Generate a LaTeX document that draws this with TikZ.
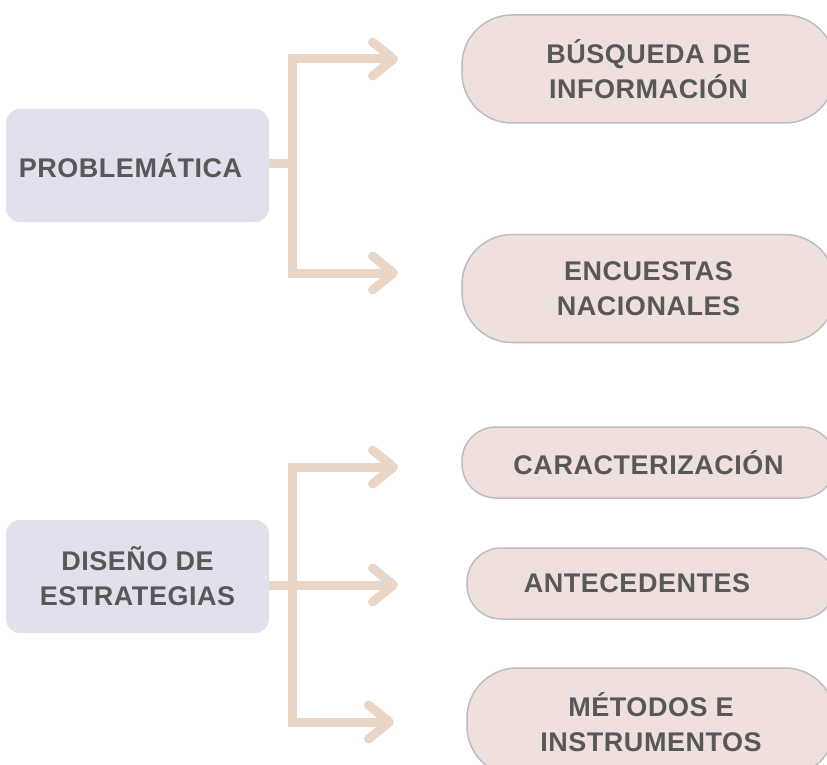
\documentclass[tikz,border=0pt]{standalone}
\usepackage{fontspec}
\setmainfont[LetterSpace=2]{Liberation Sans}
\usetikzlibrary{arrows.meta,positioning}
\definecolor{lila}{HTML}{E2E0ED}
\definecolor{rosa}{HTML}{EFE0DD}
\definecolor{borde}{HTML}{BEBCBC}
\definecolor{flecha}{HTML}{E9D6C6}
\definecolor{texto}{HTML}{585858}
\tikzset{
  letra/.style={text=texto, align=center, font=\fontsize{27}{35}\selectfont\bfseries},
  tema/.style={letra, fill=lila, rounded corners=14pt, inner sep=0pt,
    minimum width=263pt, minimum height=113pt},
  sub/.style={letra, fill=rosa, draw=borde, line width=1.5pt, inner sep=0pt,
    rounded corners=50pt, minimum height=#1},
  sub/.default=108pt,
  flujo/.style={draw=flecha, line width=9pt, line join=miter},
  punta/.style={-{Straight Barb[length=21pt,width=34pt,round]}},
  dospuntas/.style={{Straight Barb[length=21pt,width=34pt,round]}-{Straight Barb[length=21pt,width=34pt,round]}}
}
\begin{document}
\begin{tikzpicture}[x=1pt,y=-1pt]
\useasboundingbox (0,0) rectangle (827,765);
\clip (0,0) rectangle (827,765);

\node[tema] (prob) at (137.5,165.5) {PROBLEMÁTICA\hspace*{14pt}};
\node[tema] (dis) at (137.5,576.5) {DISEÑO DE\\ESTRATEGIAS};

\node[sub, minimum width=373pt] (busq) at (648.5,69) {BÚSQUEDA DE\\INFORMACIÓN};
\node[sub, minimum width=373pt] (encu) at (648.5,288.5) {ENCUESTAS\\NACIONALES};
\node[sub=71pt, minimum width=373pt, rounded corners=34pt] (cara) at (648.5,462.5) {CARACTERIZACIÓN};
\node[sub=71pt, minimum width=368pt, rounded corners=34pt] (ante) at (651,583.5) {ANTECEDENTES\hspace*{28pt}};
\node[sub, minimum width=368pt] (meto) at (651,722) {MÉTODOS E\\INSTRUMENTOS};

\coordinate (r0) at (292,163);
\coordinate (r1) at (292,59);
\coordinate (r2) at (292,273);
\coordinate (f1) at (398,59);
\coordinate (f2) at (398,273);
\coordinate (r3) at (292,467);
\coordinate (r4) at (292,722);
\coordinate (f3) at (398,467);
\coordinate (f4) at (398,585);
\coordinate (f5) at (394,722);

\draw[flujo,dospuntas] (f1) -- (r1) -- (r2) -- (f2);
\draw[flujo] (prob.east |- r0) -- (r0);
\draw[flujo,dospuntas] (f3) -- (r3) -- (r4) -- (f5);
\draw[flujo,punta] (dis.east |- f4) -- (f4);
\end{tikzpicture}
\end{document}
